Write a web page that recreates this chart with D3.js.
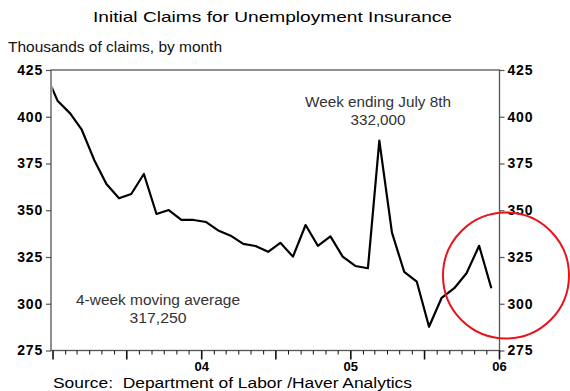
<!DOCTYPE html>
<html>
<head>
<meta charset="utf-8">
<script src="https://cdn.jsdelivr.net/npm/d3@7"></script>
<style>
  html, body { margin: 0; padding: 0; background: #fff; }
  svg { display: block; }
  text { font-family: "Liberation Sans", Arial, sans-serif; }
</style>
</head>
<body>
<svg id="chart" width="570" height="391"></svg>
<script>
// Monthly initial claims, thousands (Dec 2002 lead-in, then Jan 2003 .. Dec 2005)
const months = [
  "2002-12",
  "2003-01","2003-02","2003-03","2003-04","2003-05","2003-06","2003-07","2003-08","2003-09","2003-10","2003-11","2003-12",
  "2004-01","2004-02","2004-03","2004-04","2004-05","2004-06","2004-07","2004-08","2004-09","2004-10","2004-11","2004-12",
  "2005-01","2005-02","2005-03","2005-04","2005-05","2005-06","2005-07","2005-08","2005-09","2005-10","2005-11","2005-12"
];
const claims = [
  424,
  408.6, 401.8, 393.3, 376.9, 364.0, 356.4, 358.7, 369.4, 348.0, 350.1, 344.8, 344.8,
  343.7, 339.0, 336.4, 332.0, 330.9, 327.8, 332.6, 325.2, 342.1, 331.0, 336.0, 325.2,
  320.2, 319.0, 387.2, 338.0, 317.1, 311.8, 287.7, 303.2, 308.3, 316.3, 331.0, 308.3
];
const yTicks = [275, 300, 325, 350, 375, 400, 425];
const yearLabels = ["04", "05", "06"];

const titleText = "Initial Claims for Unemployment Insurance";
const subtitleText = "Thousands of claims, by month";
const sourceText = "Source:  Department of Labor /Haver Analytics";
const noteWeek = ["Week ending July 8th", "332,000"];
const noteAvg = ["4-week moving average", "317,250"];

const svg = d3.select("#chart");
const plotL = 51, plotR = 499.5, plotT = 70, plotB = 350.5;

const parse = d3.timeParse("%Y-%m");
const pts = months.map((m, i) => {
  const d = parse(m);
  d.setDate(12);
  return { date: d, value: claims[i] };
});

const x = d3.scaleTime()
  .domain([new Date(2002, 11, 27), new Date(2006, 0, 1)])
  .range([plotL, plotR]);
const y = d3.scaleLinear().domain([275, 425]).range([plotB, plotT]);

// title and unit line
svg.append("text")
  .attr("x", 93).attr("y", 22)
  .attr("textLength", 359).attr("lengthAdjust", "spacingAndGlyphs")
  .style("font-size", "15px").attr("fill", "#000")
  .text(titleText);
svg.append("text")
  .attr("x", 8).attr("y", 52)
  .attr("textLength", 214).attr("lengthAdjust", "spacingAndGlyphs")
  .style("font-size", "15px").attr("fill", "#111")
  .text(subtitleText);

// clip for the series
svg.append("clipPath").attr("id", "plot-clip")
  .append("rect")
  .attr("x", plotL + 1.5).attr("y", plotT)
  .attr("width", plotR - plotL - 1.5).attr("height", plotB - plotT);

// frame
svg.append("rect")
  .attr("x", plotL).attr("y", plotT)
  .attr("width", plotR - plotL).attr("height", plotB - plotT)
  .attr("fill", "none").attr("stroke", "#555").attr("stroke-width", 1.3);

// left and right value axes
const yl = svg.append("g").attr("transform", `translate(${plotL},0)`)
  .call(d3.axisLeft(y).tickValues(yTicks).tickSize(5).tickPadding(3));
const yr = svg.append("g").attr("transform", `translate(${plotR},0)`)
  .call(d3.axisRight(y).tickValues(yTicks).tickSize(5).tickPadding(3));
[yl, yr].forEach(g => {
  g.select(".domain").remove();
  g.selectAll(".tick line").attr("stroke", "#555").attr("stroke-width", 1.2);
  g.selectAll(".tick text")
    .style("font-family", '"Liberation Sans", Arial, sans-serif')
    .style("font-size", "14px").style("font-weight", "bold")
    .style("letter-spacing", "0.8px")
    .attr("fill", "#000");
});

// monthly ticks on the time axis, longer every half year
const monthTicks = d3.timeMonth.range(new Date(2003, 0, 1), new Date(2006, 0, 2));
svg.append("g").selectAll("line")
  .data(monthTicks)
  .join("line")
  .attr("x1", d => x(d)).attr("x2", d => x(d))
  .attr("y1", plotB)
  .attr("y2", d => plotB + (d.getMonth() % 6 === 0 ? 9 : 4))
  .attr("stroke", "#111")
  .attr("stroke-width", d => d.getMonth() % 6 === 0 ? 1.6 : 1);

svg.append("g").selectAll("text")
  .data(yearLabels)
  .join("text")
  .attr("x", d => x(new Date(2000 + (+d), 0, 1)))
  .attr("y", 371)
  .attr("text-anchor", "middle")
  .style("font-family", '"Liberation Sans Narrow", "Liberation Sans", Arial, sans-serif')
  .style("font-size", "13px").style("font-weight", "bold")
  .attr("fill", "#000")
  .text(d => d);

// series
const line = d3.line().x(d => x(d.date)).y(d => y(d.value));
svg.append("path")
  .datum(pts)
  .attr("clip-path", "url(#plot-clip)")
  .attr("fill", "none")
  .attr("stroke", "#000")
  .attr("stroke-width", 2.2)
  .attr("stroke-linejoin", "round")
  .attr("d", line);

// annotations
function note(lines, cx, y0, widths) {
  lines.forEach((t, i) => {
    svg.append("text")
      .attr("x", cx - widths[i] / 2).attr("y", y0 + i * 18)
      .attr("textLength", widths[i]).attr("lengthAdjust", "spacingAndGlyphs")
      .style("font-size", "14px").attr("fill", "#333")
      .text(t);
  });
}
note(noteWeek, 378, 107, [146, 55]);
note(noteAvg, 158, 305, [164, 57]);

// source line
svg.append("text")
  .attr("x", 53).attr("y", 388)
  .attr("textLength", 359).attr("lengthAdjust", "spacingAndGlyphs")
  .style("font-size", "14px").style("white-space", "pre").attr("fill", "#000")
  .text(sourceText);

// highlight around the latest readings
svg.append("circle")
  .attr("cx", 506).attr("cy", 275.5).attr("r", 63)
  .attr("fill", "none").attr("stroke", "#e8141c").attr("stroke-width", 2);
</script>
</body>
</html>
